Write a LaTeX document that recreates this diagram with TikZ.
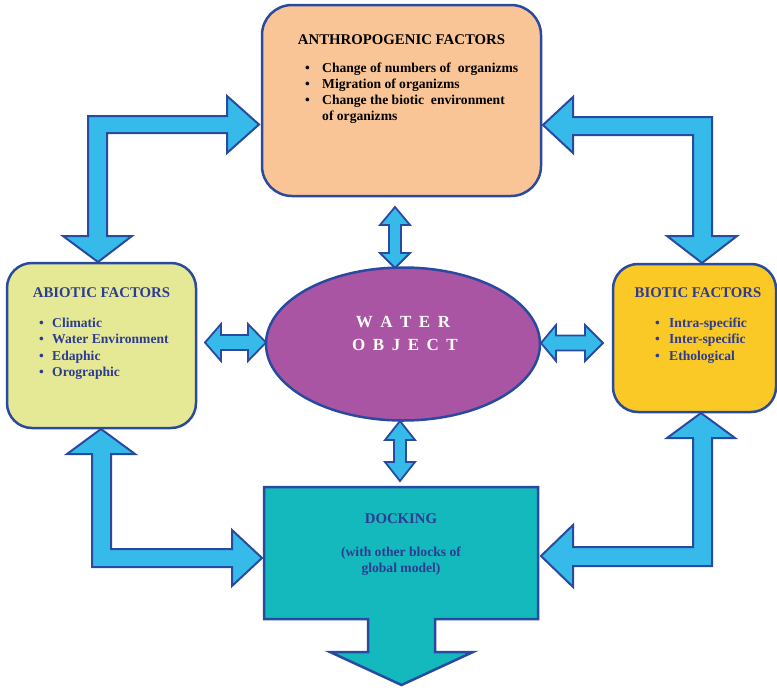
\documentclass[tikz,border=0pt]{standalone}
\usepackage{fontspec}
\setmainfont{Liberation Serif}
\usetikzlibrary{shapes.geometric}
\definecolor{edgeblue}{RGB}{42,74,160}
\definecolor{arrowblue}{RGB}{54,186,234}
\definecolor{peach}{RGB}{249,197,150}
\definecolor{abiofill}{RGB}{229,233,150}
\definecolor{biofill}{RGB}{251,201,38}
\definecolor{waterfill}{RGB}{170,84,164}
\definecolor{dockfill}{RGB}{20,185,190}
\definecolor{txtblue}{RGB}{45,60,145}
\tikzset{
  box/.style={draw=edgeblue, line width=2.5pt, inner sep=0pt},
  blockarrow/.style={draw=edgeblue, fill=arrowblue, line width=2pt, line join=miter},
  titletext/.style={anchor=base, inner sep=0pt, font=\bfseries\fontsize{14.8}{17}\selectfont},
  itemtext/.style={anchor=base west, inner sep=0pt, font=\bfseries\fontsize{13.6}{16}\selectfont},
  centertext/.style={anchor=base, inner sep=0pt, font=\bfseries\fontsize{13.6}{16}\selectfont},
  watertext/.style={anchor=base, inner sep=0pt, text=white, font=\bfseries\fontsize{17}{20}\selectfont}
}
\newcommand{\bul}[1]{\makebox[#1][l]{\textbullet}}
\begin{document}
\begin{tikzpicture}[x=1pt,y=-1pt]
\useasboundingbox (0,0) rectangle (777,691);

% ---- block arrows (L-shaped) ----
\draw[blockarrow] (88,236) -- (63,236) -- (98,262) -- (132,236) -- (107,236) -- (107,133)
  -- (227,133) -- (227,153) -- (259,124.5) -- (227,96) -- (227,116) -- (88,116) -- cycle;
\draw[blockarrow] (573,117) -- (573,97) -- (543,125) -- (573,153) -- (573,135) -- (693,135)
  -- (693,236) -- (667,236) -- (702,263) -- (737,236) -- (712,236) -- (712,117) -- cycle;
\draw[blockarrow] (92,454) -- (67,454) -- (101,429) -- (135,454) -- (111,454) -- (111,549)
  -- (232,549) -- (232,530) -- (262,558) -- (232,586) -- (232,567) -- (92,567) -- cycle;
\draw[blockarrow] (712,438) -- (735,438) -- (701,413) -- (667,438) -- (693,438) -- (693,547)
  -- (573,547) -- (573,525) -- (541,556) -- (573,587) -- (573,566) -- (712,566) -- cycle;

% ---- boxes ----
\node[box, fill=peach, rounded corners=30pt, minimum width=279pt, minimum height=191pt] (anthro) at (401.5,100.5) {};
\node[box, fill=abiofill, rounded corners=25pt, minimum width=189pt, minimum height=165pt] (abiotic) at (101.5,345.5) {};
\node[box, fill=biofill, rounded corners=25pt, minimum width=163pt, minimum height=148pt] (biotic) at (694.5,338) {};
\node[ellipse, draw=edgeblue, line width=2.5pt, fill=waterfill, minimum width=274pt, minimum height=153pt, inner sep=0pt] (water) at (403,344) {};

% docking block with down arrow
\draw[draw=edgeblue, fill=dockfill, line width=2.5pt] (264,487) -- (538,487) -- (538,619) -- (435,619) -- (435,652)
  -- (473,652) -- (401.5,685) -- (330,652) -- (368,652) -- (368,619) -- (264,619) -- cycle;
\coordinate (docking) at (401,553);

% ---- small double arrows ----
\draw[blockarrow, line width=1.8pt] (205,342.5) -- (221,324) -- (221,335) -- (248,335) -- (248,324) -- (266,342.5)
  -- (248,361) -- (248,350) -- (221,350) -- (221,361) -- cycle;
\draw[blockarrow, line width=1.8pt] (541,343) -- (556,325) -- (556,335.5) -- (585,335.5) -- (585,325) -- (603,343)
  -- (585,361) -- (585,350.5) -- (556,350.5) -- (556,361) -- cycle;
\draw[blockarrow, line width=1.8pt] (395,207) -- (410,225) -- (401,225) -- (401,253) -- (410,253) -- (395,268)
  -- (380,253) -- (389,253) -- (389,225) -- (380,225) -- cycle;
\draw[blockarrow, line width=1.8pt] (400,421) -- (415,440) -- (406,440) -- (406,462) -- (415,462) -- (400,481)
  -- (385,462) -- (394,462) -- (394,440) -- (385,440) -- cycle;

% ---- texts ----
\node[titletext] (antitle) at (401.5,44) {ANTHROPOGENIC FACTORS};
\node[itemtext] (an1) at (305,72) {\bul{17pt}Change of numbers of\ \ organizms};
\node[itemtext] (an2) at (305,88) {\bul{17pt}Migration of organizms};
\node[itemtext] (an3) at (305,104) {\bul{17pt}Change the biotic\ \ environment};
\node[itemtext] (an4) at (322,120) {of organizms};

\node[titletext, text=txtblue] (abtitle) at (101.5,297) {ABIOTIC FACTORS};
\node[itemtext, text=txtblue] (ab1) at (39,327) {\bul{13pt}Climatic};
\node[itemtext, text=txtblue] (ab2) at (39,343.5) {\bul{13pt}Water Environment};
\node[itemtext, text=txtblue] (ab3) at (39,360) {\bul{13pt}Edaphic};
\node[itemtext, text=txtblue] (ab4) at (39,376.5) {\bul{13pt}Orographic};

\node[titletext, text=txtblue] (bititle) at (698,297) {BIOTIC FACTORS};
\node[itemtext, text=txtblue] (bi1) at (655,327) {\bul{14pt}Intra-specific};
\node[itemtext, text=txtblue] (bi2) at (655,343.5) {\bul{14pt}Inter-specific};
\node[itemtext, text=txtblue] (bi3) at (655,360) {\bul{14pt}Ethological};

\node[watertext] (w1) at (403,327) {W\kern7.5pt A\kern7.5pt T\kern7.5pt E\kern7.5pt R};
\node[watertext] (w2) at (405,350) {O\kern7.5pt B\kern7.5pt J\kern7.5pt E\kern7.5pt C\kern7.5pt T};

\node[titletext, text=txtblue] (dktitle) at (401,523) {DOCKING};
\node[centertext, text=txtblue] (dk1) at (401,556) {(with other blocks of};
\node[centertext, text=txtblue] (dk2) at (401,572) {global model)};
\end{tikzpicture}
\end{document}
